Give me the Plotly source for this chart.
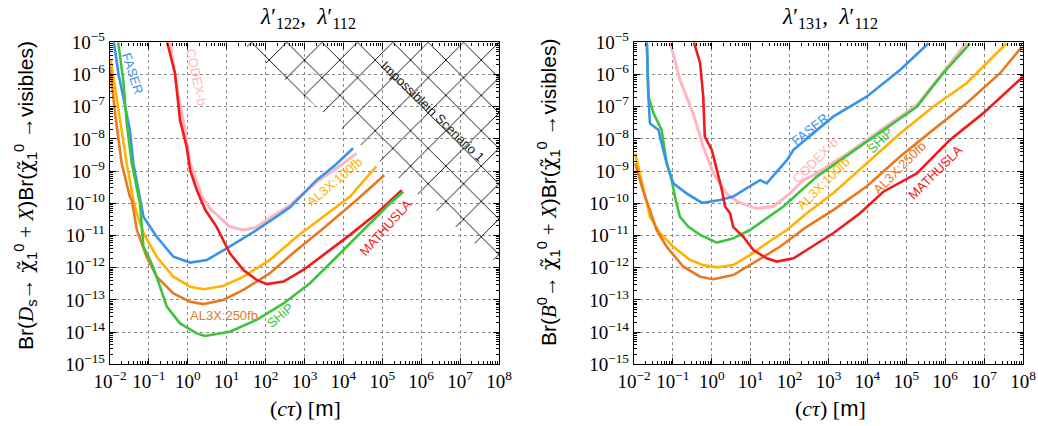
import plotly.graph_objects as go

# ---------------- data (log10 of c*tau [m], log10 of branching ratio) ----------------
# Left panel: lambda'_122, lambda'_112  (D_s production)
L_FASER_LX = [-1.90, -1.78, -1.66, -1.49, -1.40, -1.23, -1.14, -0.80, -0.37, 0.06, 0.49, 1.00, 1.77, 2.30, 2.63, 3.31, 3.80, 4.25]
L_FASER_LY = [-5.00, -6.00, -6.69, -7.72, -8.76, -9.90, -10.42, -11.04, -11.66, -11.84, -11.76, -11.40, -10.83, -10.40, -10.12, -9.28, -8.80, -8.29]

L_CODEX_LX = [-0.46, -0.24, -0.07, 0.06, 0.36, 0.60, 0.74, 1.08, 1.43, 1.75, 2.03, 2.63, 3.30, 3.90, 4.34]
L_CODEX_LY = [-5.00, -6.69, -7.72, -8.76, -9.79, -10.21, -10.35, -10.73, -10.83, -10.75, -10.52, -10.05, -9.35, -8.85, -8.45]

L_MATH_LX = [-0.53, -0.33, -0.20, -0.03, 0.06, 0.23, 0.45, 0.74, 1.08, 1.43, 1.77, 2.03, 2.46, 2.97, 3.48, 4.17, 4.86, 5.50]
L_MATH_LY = [-5.00, -5.96, -7.41, -8.24, -8.97, -9.59, -10.21, -10.73, -11.55, -12.07, -12.38, -12.51, -12.43, -12.07, -11.61, -10.98, -10.31, -9.59]

L_SHIP_LX = [-1.79, -1.66, -1.57, -1.44, -1.23, -1.14, -0.97, -0.80, -0.54, -0.20, 0.23, 0.44, 1.08, 1.77, 2.46, 3.14, 3.83, 4.51, 5.20, 5.54]
L_SHIP_LY = [-5.00, -6.17, -7.52, -8.76, -10.00, -11.35, -11.76, -12.28, -13.21, -13.73, -14.04, -14.12, -13.99, -13.62, -13.11, -12.48, -11.66, -10.83, -10.00, -9.64]

L_AL100_LX = [-1.98, -1.83, -1.70, -1.57, -1.40, -1.31, -1.14, -0.80, -0.37, 0.06, 0.40, 0.91, 1.43, 2.11, 2.80, 3.48, 4.17, 4.84]
L_AL100_LY = [-5.55, -6.69, -7.72, -8.76, -9.90, -10.31, -10.93, -11.66, -12.28, -12.59, -12.67, -12.57, -12.28, -11.76, -11.04, -10.42, -9.79, -8.86]

L_AL250_LX = [-2.00, -1.87, -1.70, -1.49, -1.44, -1.31, -1.06, -0.80, -0.37, 0.06, 0.40, 0.91, 1.43, 2.11, 2.80, 3.48, 4.34, 5.05]
L_AL250_LY = [-5.76, -7.20, -8.76, -9.79, -9.90, -10.83, -11.66, -12.28, -12.80, -13.06, -13.13, -13.00, -12.69, -12.17, -11.45, -10.78, -9.90, -9.13]

# hatched "impossible" region of the left panel
HATCH_LX = [1.39, 8.0, 8.0]
HATCH_LY = [-5.0, -11.9, -5.0]

# Right panel: lambda'_131, lambda'_112  (B^0 production)
R_FASER_LX = [-1.67, -1.63, -1.59, -1.37, -1.29, -1.16, -0.99, -0.65, -0.30, -0.22, 0.21, 0.55, 0.90, 1.24, 1.41, 1.93, 2.10, 3.12, 3.98, 4.84, 5.57]
R_FASER_LY = [-5.00, -6.69, -7.52, -7.72, -8.14, -8.76, -9.38, -9.69, -9.95, -9.98, -9.90, -9.79, -9.53, -9.28, -9.38, -8.66, -8.34, -7.31, -6.69, -5.86, -5.03]

R_SHIP_LX = [-1.67, -1.63, -1.50, -1.29, -1.16, -1.03, -0.95, -0.82, -0.60, -0.30, 0.13, 0.55, 0.98, 1.41, 1.84, 2.70, 3.55, 4.41, 5.27, 5.95, 6.64]
R_SHIP_LY = [-5.00, -6.69, -7.20, -7.72, -8.76, -9.28, -9.79, -10.42, -10.73, -10.98, -11.22, -11.09, -10.83, -10.47, -10.10, -9.17, -8.45, -7.72, -7.00, -5.96, -5.03]

R_CODEX_LX = [-1.07, -0.82, -0.48, -0.22, 0.04, 0.38, 0.47, 0.72, 1.15, 1.58, 2.01, 2.35, 2.70, 3.55, 4.41, 5.27, 5.95, 6.55]
R_CODEX_LY = [-5.00, -6.17, -7.20, -8.24, -9.07, -9.70, -9.80, -9.98, -10.16, -10.10, -9.69, -9.28, -9.07, -8.40, -7.67, -6.95, -5.93, -5.00]

R_MATH_LX = [-0.46, -0.30, -0.22, -0.18, 0.00, 0.13, 0.26, 0.34, 0.47, 0.55, 0.81, 1.07, 1.41, 1.67, 2.10, 2.44, 3.12, 3.81, 4.41, 5.27, 6.12, 6.98, 8.00]
R_MATH_LY = [-5.00, -5.65, -6.69, -7.93, -8.34, -8.97, -9.59, -10.10, -10.31, -10.73, -11.04, -11.45, -11.71, -11.81, -11.71, -11.45, -10.93, -10.31, -9.64, -9.07, -8.03, -7.20, -6.07]

R_AL100_LX = [-1.97, -1.85, -1.72, -1.59, -1.33, -0.99, -0.56, -0.22, 0.13, 0.55, 0.98, 1.41, 1.93, 2.44, 3.12, 3.98, 4.84, 5.69, 6.55, 7.58]
R_AL100_LY = [-8.45, -9.07, -9.79, -10.42, -10.93, -11.35, -11.76, -11.92, -11.99, -11.92, -11.61, -11.24, -10.83, -10.31, -9.69, -8.76, -7.83, -7.00, -6.27, -5.03]

R_AL250_LX = [-1.97, -1.76, -1.59, -1.42, -1.16, -0.73, -0.30, 0.04, 0.55, 1.07, 1.75, 2.44, 3.12, 3.98, 4.84, 5.69, 6.55, 7.41, 7.97]
R_AL250_LY = [-8.76, -9.64, -10.21, -10.83, -11.35, -11.97, -12.28, -12.36, -12.23, -11.86, -11.35, -10.73, -10.21, -9.48, -8.55, -7.72, -6.89, -5.96, -5.14]

X_TICK_EXP = list(range(-2, 9))
Y_TICK_EXP = list(range(-15, -4))

TITLES = ["<i>λ</i>′<sub>122</sub>,  <i>λ</i>′<sub>112</sub>", "<i>λ</i>′<sub>131</sub>,  <i>λ</i>′<sub>112</sub>"]

# ---------------- colours ----------------
C_FASER = "#3a93ea"
C_CODEX = "#ffb6c1"
C_MATH = "#f21a1a"
C_SHIP = "#3cc43c"
C_AL100 = "#ffb300"
C_AL250 = "#e9791f"

W, H = 1038, 426


def px(x):
    return x / W


def py(y):
    return 1 - y / H


fig = go.Figure()


def add_line(lx, ly, color, xa, ya, width=2.6):
    fig.add_trace(go.Scatter(
        x=[10 ** v for v in lx], y=[10 ** v for v in ly], mode="lines",
        line=dict(color=color, width=width, shape="linear"),
        xaxis=xa, yaxis=ya, showlegend=False, hoverinfo="skip"))


# hatch region (left)
fig.add_trace(go.Scatter(
    x=[10 ** v for v in HATCH_LX], y=[10 ** v for v in HATCH_LY],
    mode="lines", fill="toself", line=dict(width=0, color="rgba(0,0,0,0)"),
    fillcolor="rgba(0,0,0,0)",
    fillpattern=dict(shape="x", size=25, solidity=0.07, fgcolor="#000000",
                     bgcolor="rgba(0,0,0,0)", fillmode="replace"),
    xaxis="x", yaxis="y", showlegend=False, hoverinfo="skip"))

# left curves
add_line(L_CODEX_LX, L_CODEX_LY, C_CODEX, "x", "y", 3.0)
add_line(L_FASER_LX, L_FASER_LY, C_FASER, "x", "y")
add_line(L_AL100_LX, L_AL100_LY, C_AL100, "x", "y")
add_line(L_AL250_LX, L_AL250_LY, C_AL250, "x", "y")
add_line(L_MATH_LX, L_MATH_LY, C_MATH, "x", "y")
add_line(L_SHIP_LX, L_SHIP_LY, C_SHIP, "x", "y")

# right curves
add_line(R_CODEX_LX, R_CODEX_LY, C_CODEX, "x2", "y2", 3.0)
add_line(R_SHIP_LX, R_SHIP_LY, C_SHIP, "x2", "y2")
add_line(R_FASER_LX, R_FASER_LY, C_FASER, "x2", "y2")
add_line(R_AL100_LX, R_AL100_LY, C_AL100, "x2", "y2")
add_line(R_AL250_LX, R_AL250_LY, C_AL250, "x2", "y2")
add_line(R_MATH_LX, R_MATH_LY, C_MATH, "x2", "y2")


def sup(k):
    s = str(k).replace("-", "−")
    return f"10<sup>{s}</sup>"


x_tickvals = [10 ** k for k in X_TICK_EXP]
x_ticktext = [sup(k) for k in X_TICK_EXP]
y_tickvals = [10.0 ** k for k in Y_TICK_EXP]
y_ticktext = [sup(k) for k in Y_TICK_EXP]
x_minor = [m * 10.0 ** k for k in X_TICK_EXP[:-1] for m in range(2, 10)]
y_minor = [m * 10.0 ** k for k in Y_TICK_EXP[:-1] for m in range(2, 10)]

serif = "Liberation Serif"
sans = "Liberation Sans"

common = dict(type="log", showline=True, linecolor="black", linewidth=1.4, mirror="allticks",
              ticks="inside", ticklen=6, tickwidth=1, tickcolor="black", automargin=False,
              showgrid=True, gridcolor="#8a8a8a", griddash="dot", gridwidth=1, zeroline=False,
              tickfont=dict(family=serif, size=19, color="black"))

xa = dict(common, range=[-2, 8], tickvals=x_tickvals, ticktext=x_ticktext,
          minor=dict(tickvals=x_minor, ticks="inside", ticklen=3, tickcolor="black", showgrid=False))
ya = dict(common, range=[-15, -5], tickvals=y_tickvals, ticktext=y_ticktext,
          minor=dict(tickvals=y_minor, ticks="inside", ticklen=3, tickcolor="black", showgrid=False))

X1 = [px(110), px(499)]
X2 = [px(634), px(1023)]
YD = [py(364.3), py(42.3)]

fig.update_layout(
    width=W, height=H, margin=dict(l=0, r=0, t=0, b=0, autoexpand=False),
    paper_bgcolor="white", plot_bgcolor="white", showlegend=False,
    xaxis=dict(xa, domain=X1, anchor="y"),
    yaxis=dict(ya, domain=YD, anchor="x"),
    xaxis2=dict(xa, domain=X2, anchor="y2"),
    yaxis2=dict(ya, domain=YD, anchor="x2"),
)

ann = []


def label(text, x, y, color, angle, size=13, family=sans):
    ann.append(dict(text=text, x=px(x), y=py(y), xref="paper", yref="paper",
                    showarrow=False, textangle=angle, xanchor="center", yanchor="middle",
                    font=dict(family=family, size=size, color=color)))


# titles
label(TITLES[0], 308, 18, "black", 0, 23, serif)
label(TITLES[1], 830, 18, "black", 0, 23, serif)

# axis titles
CHI = "<span style='font-family:DejaVu Serif'>χ̃</span>"
ylab_left = ("Br(<span style='font-family:Liberation Serif'><i>D</i></span><sub>s</sub>→ "
             + CHI + "<sub>1</sub><sup>0</sup>"
             " <span style='font-family:Liberation Serif'>+ <i>X</i></span>)Br("
             + CHI + "<sub>1</sub><sup>0</sup> →visibles)")
ylab_right = ("Br(<span style='font-family:Liberation Serif'><i>B</i></span><sup>0</sup>→ "
              + CHI + "<sub>1</sub><sup>0</sup>"
              " <span style='font-family:Liberation Serif'>+ <i>X</i></span>)Br("
              + CHI + "<sub>1</sub><sup>0</sup> →visibles)")
label(ylab_left, 25, 196, "black", -90, 21, sans)
label(ylab_right, 548, 193, "black", -90, 21, sans)

xlab = ("<span style='font-family:Liberation Serif'>(<i>cτ</i>) [</span>m"
        "<span style='font-family:Liberation Serif'>]</span>")
label(xlab, 305, 408, "black", 0, 22, sans)
label(xlab, 830, 408, "black", 0, 22, sans)

# curve labels, left
label("FASER", 133, 73, C_FASER, 72)
label("CODEX-b", 197, 77, C_CODEX, 78)
label("AL3X:100fb", 335, 182, C_AL100, -40)
label("MATHUSLA", 386, 228, C_MATH, -48)
label("AL3X:250fb", 224, 315, C_AL250, 0)
label("SHiP", 280, 315, C_SHIP, -40)
label("Impossiblein Scenario 1", 433, 111, "#222222", 44)

# curve labels, right
label("FASER", 810, 130, C_FASER, -38)
label("CODEX-b", 815, 160, C_CODEX, -45)
label("SHiP", 880, 140, C_SHIP, -45)
label("AL3X:100fb", 823, 183, C_AL100, -45)
label("AL3X:250fb", 900, 168, C_AL250, -45)
label("MATHUSLA", 935, 172, C_MATH, -45)

fig.update_layout(annotations=ann)

fig.write_html("out.html", config={"displayModeBar": False},
               post_script="document.body.style.margin='0';document.body.style.padding='0';"
                           "document.body.style.overflow='hidden';")
